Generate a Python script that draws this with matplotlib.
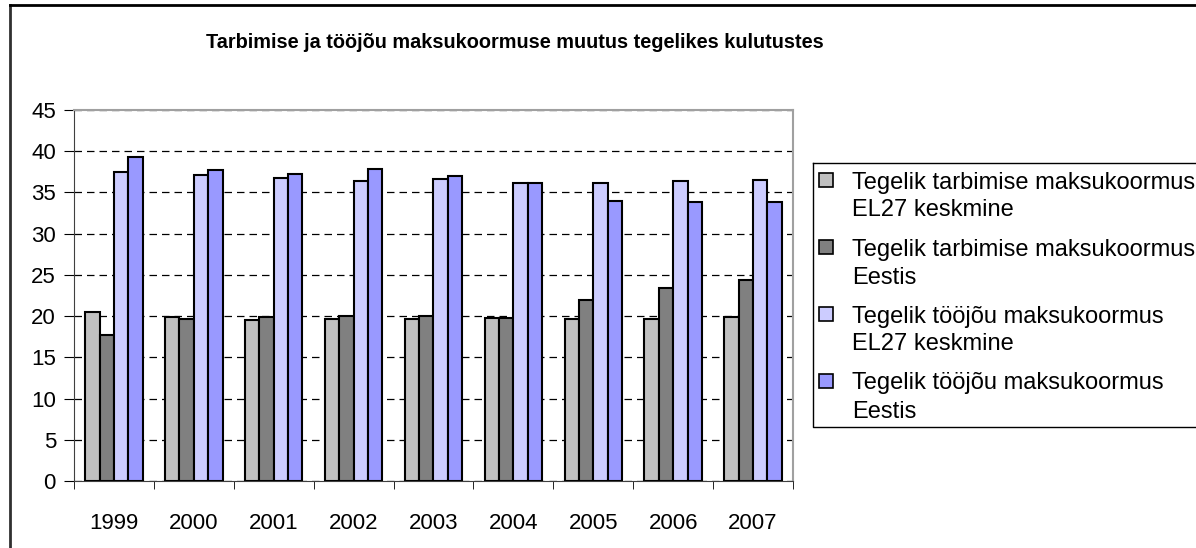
import matplotlib.pyplot as plt
from matplotlib.lines import Line2D
from matplotlib.patches import Rectangle
import numpy as np

plt.rcParams['font.family'] = ['Liberation Sans', 'DejaVu Sans']

years = ['1999', '2000', '2001', '2002', '2003', '2004', '2005', '2006', '2007']
tarb_el27 = [20.5, 19.9, 19.5, 19.6, 19.6, 19.8, 19.7, 19.7, 19.9]
tarb_eesti = [17.7, 19.7, 19.9, 20.0, 20.0, 19.8, 22.0, 23.4, 24.4]
tooj_el27 = [37.5, 37.1, 36.7, 36.4, 36.6, 36.2, 36.1, 36.4, 36.5]
tooj_eesti = [39.3, 37.7, 37.2, 37.8, 37.0, 36.2, 34.0, 33.8, 33.8]

series = [tarb_el27, tarb_eesti, tooj_el27, tooj_eesti]
labels = [('Tegelik tarbimise maksukoormus', 'EL27 keskmine'),
          ('Tegelik tarbimise maksukoormus', 'Eestis'),
          ('Tegelik tööjõu maksukoormus', 'EL27 keskmine'),
          ('Tegelik tööjõu maksukoormus', 'Eestis')]
colors = ['#C0C0C0', '#808080', '#CCCCFF', '#9999FF']

W, H = 1196, 548
fig = plt.figure(figsize=(W / 100, H / 100), dpi=100)
ax = fig.add_axes([74 / W, (H - 481) / H, (793 - 74) / W, (481 - 110) / H])

x = np.arange(len(years))
bw = 0.18
for k, (vals, col) in enumerate(zip(series, colors)):
    ax.bar(x + (k - 1.5) * bw, vals, bw, color=col, edgecolor='black',
           linewidth=1.5, zorder=3)

ax.set_xlim(-0.5, len(years) - 0.5)
ax.set_ylim(0, 45)
ax.set_yticks(range(0, 46, 5))
ax.yaxis.grid(True, color='black', linestyle=(0, (6, 4)), linewidth=0.9)
ax.set_axisbelow(True)

ax.set_xticks(x)
ax.set_xticklabels(years)
ax.set_xticks(np.arange(-0.5, len(years), 1), minor=True)
ax.tick_params(axis='x', which='major', length=0, pad=23, labelsize=16)
ax.tick_params(axis='x', which='minor', length=6, direction='out', color='black')
ax.tick_params(axis='y', length=7, direction='out', pad=6, labelsize=16)

for s in ['top', 'right']:
    ax.spines[s].set_color('#A0A0A0')
    ax.spines[s].set_linewidth(1.5)
ax.spines['left'].set_color('#404040')
ax.spines['bottom'].set_color('#404040')

fig.text(515 / W, 1 - 42 / H, 'Tarbimise ja tööjõu maksukoormuse muutus tegelikes kulutustes',
         ha='center', va='center', fontsize=14.3, fontweight='bold')

# legend drawn by hand: square beside the first line of each two-line label
def fx(px):
    return px / W

def fy(py):
    return 1 - py / H

lx0, ly0, ly1 = 813, 163, 427
fig.add_artist(Line2D([fx(lx0), fx(lx0), 1], [fy(ly0), fy(ly1), fy(ly1)], color='black', linewidth=1))
fig.add_artist(Line2D([fx(lx0), 1], [fy(ly0), fy(ly0)], color='black', linewidth=1))
for k, ((l1, l2), col) in enumerate(zip(labels, colors)):
    yc = 180 + k * 67
    fig.add_artist(Rectangle((fx(819), fy(yc + 7)), 14 / W, 14 / H, facecolor=col,
                             edgecolor='black', linewidth=1.2))
    fig.text(fx(852), fy(yc + 8.5), l1, fontsize=17, va='baseline', ha='left')
    fig.text(fx(852), fy(yc + 28 + 8.5), l2, fontsize=17, va='baseline', ha='left')

fig.add_artist(Line2D([9.5 / W, 9.5 / W], [0, 1 - 5 / H], color='#303030', linewidth=2))
fig.add_artist(Line2D([9.5 / W, 1], [1 - 5 / H, 1 - 5 / H], color='black', linewidth=2))

fig.savefig('out.png', dpi=100)
